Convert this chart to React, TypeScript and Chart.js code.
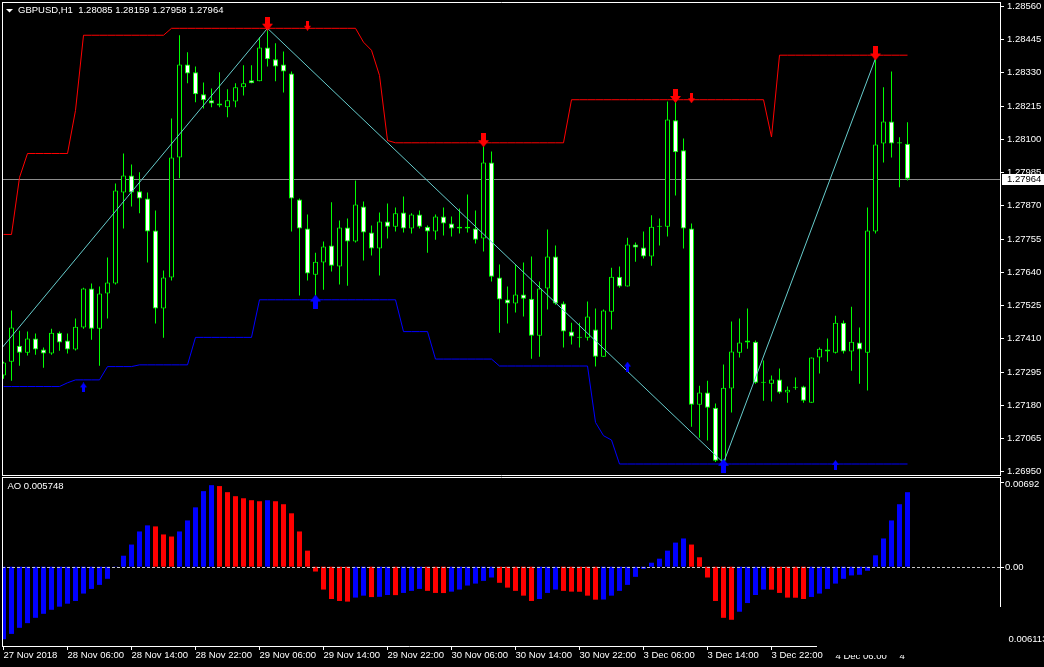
import React, { useEffect, useRef } from 'react';
import { Chart, registerables } from 'chart.js';
Chart.register(...registerables);

const FONT = '"Liberation Sans", Arial, sans-serif';

// ---- x axis (hour bars, index 0 = 27 Nov 2018 22:00) ----
const xTickIdx = [0, 8, 16, 24, 32, 40, 48, 56, 64, 72, 80, 88, 96, 104, 112];
const xTickLabels = ['27 Nov 2018', '28 Nov 06:00', '28 Nov 14:00', '28 Nov 22:00', '29 Nov 06:00', '29 Nov 14:00', '29 Nov 22:00', '30 Nov 06:00', '30 Nov 14:00', '30 Nov 22:00', '3 Dec 06:00', '3 Dec 14:00', '3 Dec 22:00', '4 Dec 06:00', '4'];

// ---- price axis ----
const priceTicks = [1.2856, 1.28445, 1.2833, 1.28215, 1.281, 1.27985, 1.2787, 1.27755, 1.2764, 1.27525, 1.2741, 1.27295, 1.2718, 1.27065, 1.2695];
const priceMax = 1.28575;
const priceMin = 1.26939;
const bidPrice = 1.27964;
const titleText = 'GBPUSD,H1  1.28085 1.28159 1.27958 1.27964';

// ---- OHLC ----
const opens = [
  1.27283, 1.27331, 1.27386, 1.27362, 1.27411, 1.27373, 1.27359, 1.27431, 1.27404, 1.27373,
  1.27449, 1.27584, 1.27445, 1.27567, 1.27601, 1.27916, 1.27975, 1.2792, 1.27895, 1.27785,
  1.27515, 1.27622, 1.28037, 1.28359, 1.28332, 1.28256, 1.28235, 1.28224, 1.28211, 1.28231,
  1.2828, 1.28304, 1.28301, 1.28418, 1.28377, 1.28359, 1.28328, 1.27892, 1.27792, 1.27632,
  1.27674, 1.27733, 1.2766, 1.27795, 1.27747, 1.27868, 1.27778, 1.27722, 1.27816, 1.27798,
  1.27847, 1.27792, 1.2784, 1.27798, 1.27781, 1.27833, 1.27809, 1.27792, 1.27798, 1.27792,
  1.27757, 1.2802, 1.27622, 1.27546, 1.27532, 1.27563, 1.27549, 1.27421, 1.27584, 1.27695,
  1.27532, 1.27435, 1.27414, 1.27414, 1.27442, 1.27348, 1.27504, 1.27625, 1.27591, 1.27736,
  1.27726, 1.27695, 1.27798, 1.27798, 1.28166, 1.28062, 1.27792, 1.27182, 1.27224, 1.27172,
  1.26988, 1.27238, 1.27362, 1.27404, 1.274, 1.27258, 1.27255, 1.27269, 1.27224, 1.27241,
  1.27245, 1.27189, 1.27345, 1.27373, 1.27362, 1.27466, 1.27366, 1.27397, 1.27362, 1.27781,
  1.28086, 1.28162, 1.2809, 1.28085,
];
const highs = [
  1.27331, 1.27508, 1.27438, 1.27435, 1.27428, 1.2738, 1.27445, 1.27435, 1.27428, 1.2748,
  1.27587, 1.27601, 1.27591, 1.27691, 1.27947, 1.28051, 1.28013, 1.27986, 1.27916, 1.27854,
  1.27646, 1.28172, 1.2846, 1.28401, 1.28352, 1.28297, 1.28276, 1.28332, 1.28273, 1.28294,
  1.28356, 1.28356, 1.28453, 1.28484, 1.28432, 1.28404, 1.28335, 1.27895, 1.2784, 1.27708,
  1.27747, 1.27882, 1.27819, 1.27826, 1.27958, 1.27885, 1.27802, 1.27847, 1.27878, 1.27864,
  1.27902, 1.27844, 1.27854, 1.27802, 1.2784, 1.27864, 1.27833, 1.27861, 1.27909, 1.27854,
  1.28076, 1.28058, 1.27667, 1.27591, 1.27667, 1.27674, 1.27695, 1.27608, 1.27788, 1.27733,
  1.27539, 1.27466, 1.27466, 1.27539, 1.27515, 1.27511, 1.27656, 1.2766, 1.2776, 1.27743,
  1.27781, 1.27837, 1.27826, 1.28231, 1.28231, 1.28103, 1.27809, 1.27248, 1.27265, 1.27186,
  1.27321, 1.2747, 1.2748, 1.27515, 1.27404, 1.27335, 1.27283, 1.27307, 1.27245, 1.27276,
  1.27248, 1.27345, 1.2738, 1.27411, 1.2749, 1.27473, 1.27521, 1.27449, 1.27864, 1.2838,
  1.2828, 1.28335, 1.28107, 1.28159,
];
const lows = [
  1.27272, 1.27265, 1.27317, 1.27352, 1.27355, 1.2731, 1.27355, 1.27369, 1.27359, 1.2737,
  1.27445, 1.27407, 1.27317, 1.2748, 1.27598, 1.27792, 1.27868, 1.27844, 1.27674, 1.27463,
  1.27414, 1.27612, 1.27965, 1.28294, 1.28228, 1.28207, 1.28211, 1.28211, 1.28176, 1.28211,
  1.28252, 1.28294, 1.28301, 1.28352, 1.28301, 1.28262, 1.27781, 1.2756, 1.27612, 1.2756,
  1.2758, 1.27643, 1.27598, 1.27594, 1.27743, 1.27681, 1.27698, 1.27629, 1.27757, 1.27781,
  1.27778, 1.27774, 1.27792, 1.27708, 1.27753, 1.27767, 1.27764, 1.27774, 1.27778, 1.2774,
  1.27712, 1.27608, 1.27431, 1.27463, 1.27501, 1.27487, 1.27341, 1.27348, 1.27511, 1.27528,
  1.2738, 1.2739, 1.2738, 1.27404, 1.27314, 1.27348, 1.27442, 1.27587, 1.27591, 1.27677,
  1.27688, 1.27663, 1.27733, 1.27764, 1.27906, 1.27722, 1.27106, 1.27068, 1.27058, 1.26984,
  1.26981, 1.27155, 1.27345, 1.27376, 1.27255, 1.27196, 1.27193, 1.2722, 1.27189, 1.27234,
  1.27189, 1.27189, 1.2729, 1.27331, 1.27359, 1.27359, 1.273, 1.27255, 1.27231, 1.27774,
  1.2802, 1.28037, 1.27934, 1.27958,
];
const closes = [
  1.27328, 1.27449, 1.27362, 1.27411, 1.27373, 1.27359, 1.27431, 1.27397, 1.27373, 1.27452,
  1.27584, 1.27445, 1.27567, 1.27605, 1.27923, 1.27975, 1.27916, 1.27895, 1.27781, 1.27515,
  1.27622, 1.28037, 1.28359, 1.28328, 1.28256, 1.28235, 1.28224, 1.28217, 1.28235, 1.2828,
  1.28294, 1.28294, 1.28418, 1.28377, 1.28352, 1.28335, 1.27895, 1.27792, 1.27636, 1.27677,
  1.27729, 1.27663, 1.27795, 1.27747, 1.27875, 1.27778, 1.27722, 1.27816, 1.27798, 1.27844,
  1.27792, 1.2784, 1.27798, 1.27781, 1.27833, 1.27809, 1.27792, 1.27798, 1.27792, 1.27753,
  1.2802, 1.27625, 1.27546, 1.27532, 1.27563, 1.27549, 1.27421, 1.27584, 1.27695, 1.27532,
  1.27435, 1.27418, 1.27414, 1.27487, 1.27348, 1.27508, 1.27625, 1.27591, 1.27736, 1.27726,
  1.27695, 1.27798, 1.27798, 1.28169, 1.28055, 1.27792, 1.27182, 1.27224, 1.27172, 1.26988,
  1.27241, 1.27366, 1.27397, 1.27397, 1.27258, 1.27258, 1.27269, 1.27224, 1.27234, 1.27241,
  1.27196, 1.27345, 1.27376, 1.27366, 1.27466, 1.27366, 1.274, 1.27373, 1.27785, 1.28082,
  1.28162, 1.28086, 1.28086, 1.27964,
];

// ---- channel lines (upper red, lower blue) ----
const upperBand = [
  1.27771, 1.27771, 1.27968, 1.28051, 1.28051, 1.28051, 1.28051, 1.28051, 1.28051, 1.282,
  1.2846, 1.2846, 1.2846, 1.2846, 1.2846, 1.2846, 1.2846, 1.2846, 1.2846, 1.2846,
  1.2846, 1.28484, 1.28484, 1.28484, 1.28484, 1.28484, 1.28484, 1.28484, 1.28484, 1.28484,
  1.28484, 1.28484, 1.28484, 1.28484, 1.28484, 1.28484, 1.28484, 1.28484, 1.28484, 1.28484,
  1.28484, 1.28484, 1.28484, 1.28484, 1.28484, 1.28436, 1.28408, 1.28321, 1.28096, 1.28088,
  1.28088, 1.28088, 1.28088, 1.28088, 1.28088, 1.28088, 1.28088, 1.28088, 1.28088, 1.28088,
  1.28088, 1.28088, 1.28088, 1.28088, 1.28088, 1.28088, 1.28088, 1.28088, 1.28088, 1.28088,
  1.28088, 1.28237, 1.28237, 1.28237, 1.28237, 1.28237, 1.28237, 1.28237, 1.28237, 1.28237,
  1.28237, 1.28237, 1.28237, 1.28237, 1.28237, 1.28237, 1.28237, 1.28237, 1.28237, 1.28237,
  1.28237, 1.28237, 1.28237, 1.28237, 1.28237, 1.28237, 1.28108, 1.28391, 1.28391, 1.28391,
  1.28391, 1.28391, 1.28391, 1.28391, 1.28391, 1.28391, 1.28391, 1.28391, 1.28391, 1.28391,
  1.28391, 1.28391, 1.28391, 1.28391,
];
const lowerBand = [
  1.27245, 1.27245, 1.27245, 1.27245, 1.27245, 1.27245, 1.27245, 1.27245, 1.27258, 1.27268,
  1.27268, 1.27268, 1.27268, 1.27314, 1.27314, 1.27314, 1.27314, 1.2732, 1.2732, 1.2732,
  1.2732, 1.2732, 1.2732, 1.2732, 1.27415, 1.27415, 1.27415, 1.27415, 1.27415, 1.27415,
  1.27415, 1.27415, 1.27545, 1.27545, 1.27545, 1.27545, 1.27545, 1.27545, 1.27545, 1.27545,
  1.27545, 1.27545, 1.27545, 1.27545, 1.27545, 1.27545, 1.27545, 1.27545, 1.27545, 1.27545,
  1.27435, 1.27435, 1.27435, 1.27435, 1.2734, 1.2734, 1.2734, 1.2734, 1.2734, 1.2734,
  1.2734, 1.2734, 1.27316, 1.27316, 1.27316, 1.27316, 1.27316, 1.27316, 1.27316, 1.27316,
  1.27316, 1.27316, 1.27316, 1.27316, 1.27121, 1.27075, 1.2706, 1.26977, 1.26977, 1.26977,
  1.26977, 1.26977, 1.26977, 1.26977, 1.26977, 1.26977, 1.26977, 1.26977, 1.26977, 1.26977,
  1.26977, 1.26977, 1.26977, 1.26977, 1.26977, 1.26977, 1.26977, 1.26977, 1.26977, 1.26977,
  1.26977, 1.26977, 1.26977, 1.26977, 1.26977, 1.26977, 1.26977, 1.26977, 1.26977, 1.26977,
  1.26977, 1.26977, 1.26977, 1.26977,
];

// ---- zigzag ----
const zigzagIdx = [-0.1875, 33, 90, 109];
const zigzagVals = [1.27379, 1.28484, 1.26981, 1.2838];

// ---- arrows ----
const bigDownIdx = [33, 60, 84, 109];
const bigDownVals = [1.285, 1.28097, 1.2825, 1.28397];
const smallDownIdx = [38, 86];
const smallDownVals = [1.28493, 1.28242];
const bigUpIdx = [39, 90];
const bigUpVals = [1.27539, 1.26971];
const smallUpIdx = [10, 78, 104];
const smallUpVals = [1.27242, 1.27314, 1.26974];

// ---- Awesome Oscillator ----
const aoValues = [
  -0.00559, -0.00518, -0.00471, -0.00435, -0.00394, -0.00363, -0.00332, -0.00308, -0.00285, -0.00264,
  -0.00207, -0.00171, -0.0014, -0.00093, -0.00002, 0.00085, 0.00171, 0.00272, 0.00319, 0.00311,
  0.00249, 0.00233, 0.00272, 0.00357, 0.00458, 0.00583, 0.00629, 0.00622, 0.00575, 0.00544,
  0.00528, 0.00513, 0.00505, 0.00513, 0.00505, 0.00482, 0.00412, 0.00272, 0.00124, -0.00037,
  -0.00176, -0.00249, -0.00264, -0.00269, -0.00238, -0.00223, -0.00234, -0.00232, -0.00218, -0.00219,
  -0.00202, -0.00186, -0.00171, -0.00186, -0.00202, -0.00203, -0.00192, -0.00176, -0.00145, -0.0013,
  -0.00109, -0.00083, -0.00124, -0.00161, -0.00186, -0.00223, -0.00264, -0.00249, -0.00202, -0.00176,
  -0.00186, -0.00192, -0.00193, -0.00223, -0.00254, -0.00253, -0.00223, -0.00186, -0.0014, -0.00078,
  -0.00016, 0.00031, 0.00062, 0.00124, 0.00186, 0.00218, 0.00171, 0.00073, -0.00083, -0.00264,
  -0.00394, -0.00409, -0.00347, -0.0028, -0.00218, -0.00176, -0.00177, -0.00202, -0.00238, -0.00239,
  -0.00249, -0.00233, -0.00207, -0.00171, -0.0013, -0.00093, -0.00067, -0.00062, -0.00031, 0.00088,
  0.00218, 0.00357, 0.00482, 0.005748,
];
const aoAxisMax = 0.00692;
const aoAxisMin = -0.006113;
const aoTitle = 'AO 0.005748';

const X_MIN = -0.1875;
const X_MAX = 124.5625;

function makeArrow(big: boolean, up: boolean, color: string): HTMLCanvasElement {
  const w = big ? 11 : 7;
  const h = big ? 14 : 10;
  const shaft = big ? 5 : 3;
  const head = big ? 7 : 5;
  const c = document.createElement('canvas');
  c.width = w;
  c.height = h;
  const g = c.getContext('2d') as CanvasRenderingContext2D;
  g.fillStyle = color;
  if (up) {
    g.translate(0, h);
    g.scale(1, -1);
  }
  g.fillRect((w - shaft) / 2, 0, shaft, h - head + 1);
  g.beginPath();
  g.moveTo(0, h - head);
  g.lineTo(w, h - head);
  g.lineTo(w / 2, h);
  g.closePath();
  g.fill();
  return c;
}

const pts = (xs: number[], ys: number[]) => xs.map((x, k) => ({ x, y: ys[k] }));

const pricePanePlugin: any = {
  id: 'pricePane',
  beforeDatasetsDraw(chart: any) {
    const { ctx, chartArea: a, scales } = chart;
    const py = Math.round(scales.y.getPixelForValue(bidPrice)) + 0.5;
    ctx.save();
    ctx.strokeStyle = '#8c8c8c';
    ctx.lineWidth = 1;
    ctx.beginPath();
    ctx.moveTo(a.left, py);
    ctx.lineTo(a.right, py);
    ctx.stroke();
    ctx.restore();
  },
  afterDraw(chart: any) {
    const { ctx, chartArea: a, scales } = chart;
    ctx.save();
    ctx.strokeStyle = '#ffffff';
    ctx.lineWidth = 1;
    ctx.beginPath();
    ctx.moveTo(a.left, a.top + 0.5);
    ctx.lineTo(a.right + 1, a.top + 0.5);
    ctx.moveTo(a.left + 0.5, a.top);
    ctx.lineTo(a.left + 0.5, a.bottom + 1);
    ctx.moveTo(a.left, a.bottom + 0.5);
    ctx.lineTo(a.right + 1, a.bottom + 0.5);
    ctx.stroke();
    const py = Math.round(scales.y.getPixelForValue(bidPrice));
    ctx.fillStyle = '#ffffff';
    ctx.fillRect(a.right + 2, py - 5, 44, 11);
    ctx.fillStyle = '#000000';
    ctx.font = `9.5px ${FONT}`;
    ctx.textBaseline = 'middle';
    ctx.textAlign = 'left';
    ctx.fillText(bidPrice.toFixed(5), a.right + 7, py + 0.5);
    ctx.fillStyle = '#ffffff';
    ctx.beginPath();
    ctx.moveTo(6, 9);
    ctx.lineTo(13, 9);
    ctx.lineTo(9.5, 12.5);
    ctx.closePath();
    ctx.fill();
    ctx.fillText(titleText, 18, 10.5);
    ctx.restore();
  },
};

const aoPanePlugin: any = {
  id: 'aoPane',
  afterDatasetsDraw(chart: any) {
    const { ctx, chartArea: a, scales } = chart;
    const zy = Math.round(scales.y.getPixelForValue(0)) + 0.5;
    ctx.save();
    ctx.strokeStyle = '#c8c8c8';
    ctx.lineWidth = 1;
    ctx.setLineDash([3, 2]);
    ctx.beginPath();
    ctx.moveTo(a.left, zy);
    ctx.lineTo(a.right + 2, zy);
    ctx.stroke();
    ctx.restore();
  },
  afterDraw(chart: any) {
    const { ctx, chartArea: a, scales } = chart;
    ctx.save();
    ctx.strokeStyle = '#ffffff';
    ctx.lineWidth = 1;
    ctx.beginPath();
    ctx.moveTo(a.left, a.top + 0.5);
    ctx.lineTo(a.right + 1, a.top + 0.5);
    ctx.moveTo(a.left + 0.5, a.top);
    ctx.lineTo(a.left + 0.5, a.bottom + 1);
    ctx.moveTo(a.left, a.bottom + 0.5);
    ctx.lineTo(817, a.bottom + 0.5);
    ctx.moveTo(a.right + 0.5, a.top);
    ctx.lineTo(a.right + 0.5, 131);
    const zy = Math.round(scales.y.getPixelForValue(0)) + 0.5;
    ctx.moveTo(a.right, a.top + 5.5);
    ctx.lineTo(a.right + 4, a.top + 5.5);
    ctx.moveTo(a.right, zy);
    ctx.lineTo(a.right + 4, zy);
    ctx.stroke();

    ctx.fillStyle = '#ffffff';
    ctx.font = `9.5px ${FONT}`;
    ctx.textBaseline = 'middle';
    ctx.textAlign = 'left';
    ctx.fillText(aoAxisMax.toFixed(5), a.right + 5, a.top + 7.5);
    ctx.fillText('0.00', a.right + 5, zy);
    ctx.fillText(Math.abs(aoAxisMin).toFixed(6), a.right + 8.5, a.bottom - 6.5);
    ctx.fillText(aoTitle, 7.5, a.top + 9.5);

    // partially hidden last time labels
    ctx.save();
    ctx.beginPath();
    ctx.rect(0, a.bottom + 9, 1044, 30);
    ctx.clip();
    const xs = scales.x;
    for (let k = 13; k < xTickIdx.length; k++) {
      ctx.fillText(xTickLabels[k], xs.getPixelForValue(xTickIdx[k]), a.bottom + 10.5);
    }
    ctx.restore();
    ctx.restore();
  },
};

export default function App() {
  const topRef = useRef<HTMLCanvasElement>(null);
  const aoRef = useRef<HTMLCanvasElement>(null);

  useEffect(() => {
    Chart.defaults.font.family = FONT;
    const redBig = makeArrow(true, false, '#ff0000');
    const redSmall = makeArrow(false, false, '#ff0000');
    const blueBig = makeArrow(true, true, '#0000ff');
    const blueSmall = makeArrow(false, true, '#0000ff');
    const idx = opens.map((_, i) => i);

    const arrowDs = (data: any[], img: HTMLCanvasElement) => ({
      type: 'line',
      data,
      showLine: false,
      pointStyle: img,
      pointRadius: 6,
      order: -1,
      clip: false,
    });

    const priceChart = new Chart(topRef.current as HTMLCanvasElement, {
      type: 'bar',
      data: {
        datasets: [
          {
            type: 'line',
            data: pts(zigzagIdx, zigzagVals),
            borderColor: '#66cccc',
            borderWidth: 1,
            pointRadius: 0,
            order: 0,
          },
          {
            type: 'line',
            data: pts(idx, upperBand),
            borderColor: '#ff0000',
            borderWidth: 1,
            pointRadius: 0,
            order: 0,
          },
          {
            type: 'line',
            data: pts(idx, lowerBand),
            borderColor: '#0000ff',
            borderWidth: 1,
            pointRadius: 0,
            order: 0,
          },
          arrowDs(pts(bigDownIdx, bigDownVals), redBig),
          arrowDs(pts(smallDownIdx, smallDownVals), redSmall),
          arrowDs(pts(bigUpIdx, bigUpVals), blueBig),
          arrowDs(pts(smallUpIdx, smallUpVals), blueSmall),
          {
            type: 'bar',
            data: idx.map((i) => ({ x: i, y: [opens[i], closes[i]] })),
            backgroundColor: (c: any) => (closes[c.dataIndex] < opens[c.dataIndex] ? '#ffffff' : '#000000'),
            borderColor: '#00ff00',
            borderWidth: 1,
            borderSkipped: false,
            barThickness: 5,
            maxBarThickness: 5,
            minBarLength: 1,
            inflateAmount: 0,
            grouped: false,
            order: 1,
          },
          {
            type: 'bar',
            data: idx.map((i) => ({ x: i, y: [lows[i], highs[i]] })),
            backgroundColor: '#00ff00',
            borderWidth: 0,
            barThickness: 1,
            maxBarThickness: 1,
            inflateAmount: 0,
            grouped: false,
            order: 2,
          },
        ] as any,
      },
      options: {
        animation: false,
        responsive: false,
        devicePixelRatio: 1,
        events: [],
        layout: { autoPadding: false, padding: { left: 2, top: 2, right: 0, bottom: 2 } },
        plugins: { legend: { display: false }, tooltip: { enabled: false } },
        scales: {
          x: {
            type: 'linear',
            display: false,
            min: X_MIN,
            max: X_MAX,
            offset: false,
            grid: { offset: false },
          },
          y: {
            type: 'linear',
            position: 'right',
            min: priceMin,
            max: priceMax,
            bounds: 'data',
            beginAtZero: false,
            afterBuildTicks: (s: any) => {
              s.ticks = priceTicks.map((v) => ({ value: v }));
            },
            afterFit: (s: any) => {
              s.width = 44;
              s.paddingTop = 0;
              s.paddingBottom = 0;
            },
            ticks: {
              color: '#ffffff',
              font: { family: FONT, size: 9.5 },
              padding: 3,
              autoSkip: false,
              callback: (v: any) => Number(v).toFixed(5),
            },
            grid: { drawOnChartArea: false, drawTicks: true, tickLength: 4, color: '#ffffff' },
            border: { display: true, color: '#ffffff', width: 1 },
          },
        },
      } as any,
      plugins: [pricePanePlugin],
    } as any);

    const aoColors = aoValues.map((v, i) => (i === 0 || v > aoValues[i - 1] ? '#0000ff' : '#ff0000'));

    const aoChart = new Chart(aoRef.current as HTMLCanvasElement, {
      type: 'bar',
      data: {
        datasets: [
          {
            data: aoValues.map((v, i) => ({ x: i, y: v })),
            backgroundColor: aoColors,
            borderWidth: 0,
            barThickness: 5,
            maxBarThickness: 5,
            inflateAmount: 0,
          },
        ] as any,
      },
      options: {
        animation: false,
        responsive: false,
        devicePixelRatio: 1,
        events: [],
        layout: { autoPadding: false, padding: { left: 2, top: 1, right: 44, bottom: 0 } },
        plugins: { legend: { display: false }, tooltip: { enabled: false } },
        scales: {
          x: {
            type: 'linear',
            min: X_MIN,
            max: X_MAX,
            offset: false,
            afterBuildTicks: (s: any) => {
              s.ticks = xTickIdx.map((v) => ({ value: v }));
            },
            afterFit: (s: any) => {
              s.height = 21;
              s.paddingLeft = 0;
              s.paddingRight = 0;
            },
            ticks: {
              autoSkip: false,
              maxRotation: 0,
              minRotation: 0,
              align: 'start',
              padding: 0,
              color: (c: any) => (c.index >= 13 ? 'rgba(0,0,0,0)' : '#ffffff'),
              font: { family: FONT, size: 9.5 },
              callback: (_v: any, i: number) => xTickLabels[i],
            },
            grid: {
              display: true,
              drawOnChartArea: false,
              drawTicks: true,
              tickLength: 4,
              offset: false,
              color: (c: any) => (c.index >= 13 ? 'rgba(0,0,0,0)' : '#ffffff'),
            },
            border: { display: false },
          },
          y: {
            type: 'linear',
            display: false,
            min: aoAxisMin,
            max: aoAxisMax,
            beginAtZero: false,
          },
        },
      } as any,
      plugins: [aoPanePlugin],
    } as any);

    return () => {
      priceChart.destroy();
      aoChart.destroy();
    };
  }, []);

  return (
    <div style={{ position: 'fixed', left: 0, top: 0, width: 1044, height: 667, background: '#000000', overflow: 'hidden' }}>
      <canvas ref={topRef} width={1044} height={477} style={{ position: 'absolute', left: 0, top: 0 }} />
      <canvas ref={aoRef} width={1044} height={191} style={{ position: 'absolute', left: 0, top: 476 }} />
    </div>
  );
}
